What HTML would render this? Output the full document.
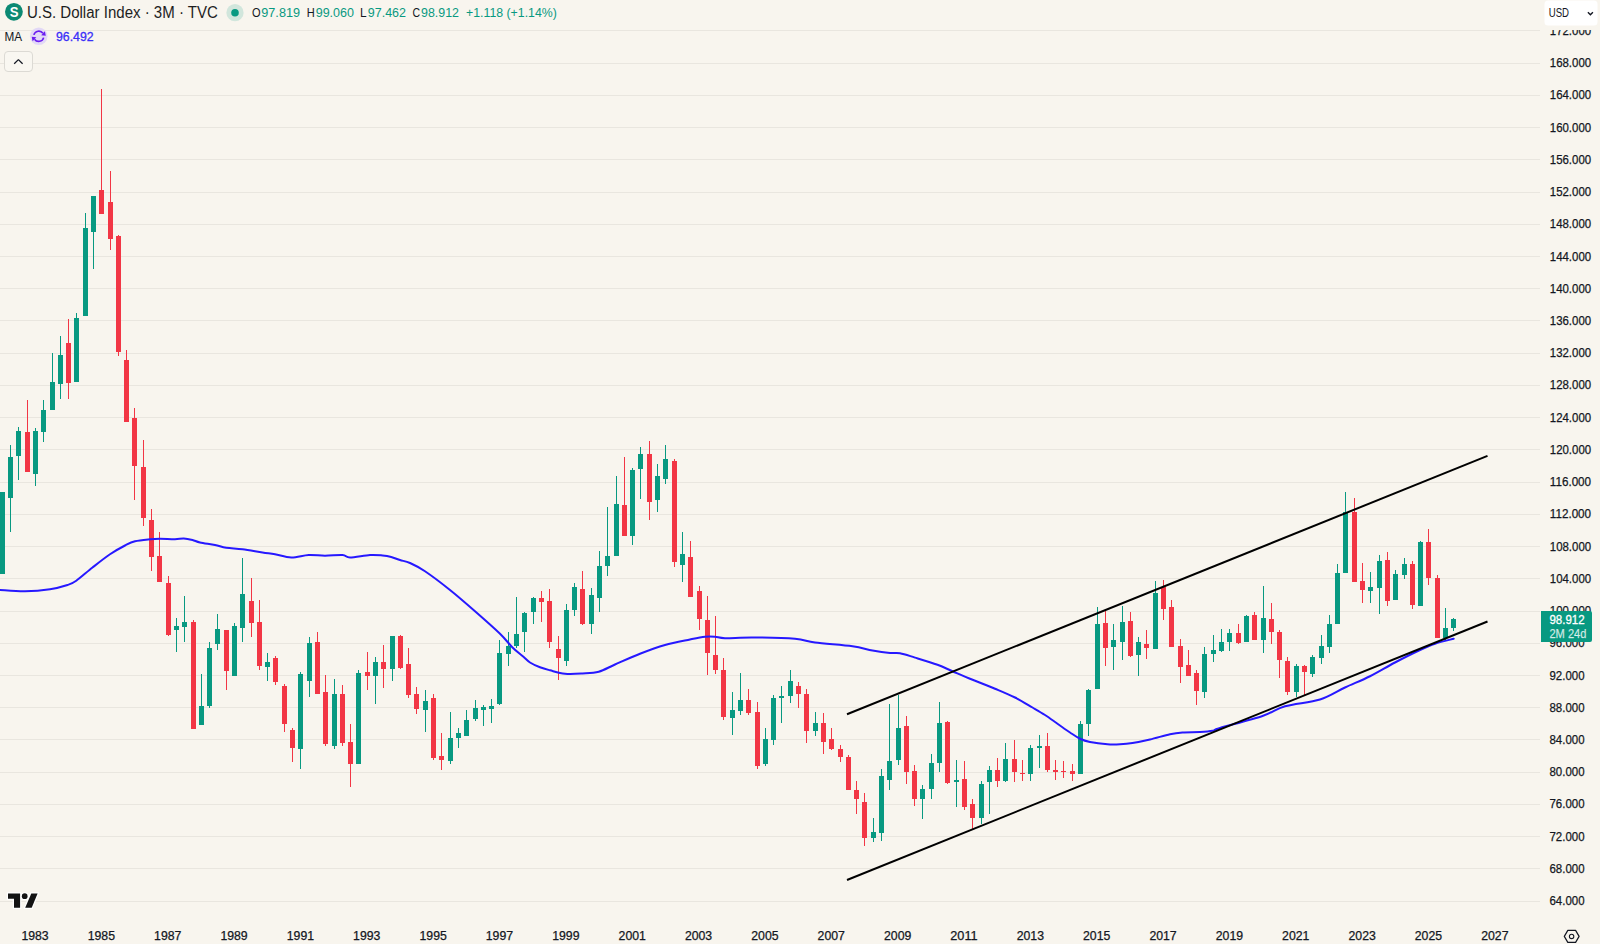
<!DOCTYPE html><html><head><meta charset="utf-8"><title>U.S. Dollar Index</title>
<style>html,body{margin:0;padding:0;background:#f8f5ee;}body{width:1600px;height:944px;overflow:hidden;position:relative;font-family:"Liberation Sans",sans-serif;}svg{position:absolute;left:0;top:0;display:block}text{font-family:"Liberation Sans",sans-serif;}</style></head><body>
<svg width="1600" height="944" viewBox="0 0 1600 944">
<rect width="1600" height="944" fill="#f8f5ee"/>
<g shape-rendering="crispEdges" fill="#e9e6df">
<rect x="0" y="30" width="1540" height="1"/>
<rect x="0" y="63" width="1540" height="1"/>
<rect x="0" y="95" width="1540" height="1"/>
<rect x="0" y="127" width="1540" height="1"/>
<rect x="0" y="159" width="1540" height="1"/>
<rect x="0" y="192" width="1540" height="1"/>
<rect x="0" y="224" width="1540" height="1"/>
<rect x="0" y="256" width="1540" height="1"/>
<rect x="0" y="288" width="1540" height="1"/>
<rect x="0" y="320" width="1540" height="1"/>
<rect x="0" y="353" width="1540" height="1"/>
<rect x="0" y="385" width="1540" height="1"/>
<rect x="0" y="417" width="1540" height="1"/>
<rect x="0" y="449" width="1540" height="1"/>
<rect x="0" y="482" width="1540" height="1"/>
<rect x="0" y="514" width="1540" height="1"/>
<rect x="0" y="546" width="1540" height="1"/>
<rect x="0" y="578" width="1540" height="1"/>
<rect x="0" y="611" width="1540" height="1"/>
<rect x="0" y="643" width="1540" height="1"/>
<rect x="0" y="675" width="1540" height="1"/>
<rect x="0" y="707" width="1540" height="1"/>
<rect x="0" y="739" width="1540" height="1"/>
<rect x="0" y="772" width="1540" height="1"/>
<rect x="0" y="804" width="1540" height="1"/>
<rect x="0" y="836" width="1540" height="1"/>
<rect x="0" y="868" width="1540" height="1"/>
<rect x="0" y="901" width="1540" height="1"/>
</g>
<g shape-rendering="crispEdges">
<rect x="2" y="492" width="1" height="82" fill="#089981"/>
<rect x="0" y="492" width="5" height="82" fill="#089981"/>
<rect x="10" y="445" width="1" height="87" fill="#089981"/>
<rect x="8" y="457" width="5" height="41" fill="#089981"/>
<rect x="18" y="427" width="1" height="53" fill="#089981"/>
<rect x="16" y="431" width="5" height="25" fill="#089981"/>
<rect x="27" y="400" width="1" height="72" fill="#f23645"/>
<rect x="25" y="432" width="5" height="40" fill="#f23645"/>
<rect x="35" y="428" width="1" height="58" fill="#089981"/>
<rect x="33" y="431" width="5" height="43" fill="#089981"/>
<rect x="43" y="400" width="1" height="42" fill="#089981"/>
<rect x="41" y="410" width="5" height="22" fill="#089981"/>
<rect x="52" y="353" width="1" height="57" fill="#089981"/>
<rect x="50" y="382" width="5" height="28" fill="#089981"/>
<rect x="60" y="336" width="1" height="63" fill="#089981"/>
<rect x="58" y="355" width="5" height="29" fill="#089981"/>
<rect x="68" y="319" width="1" height="80" fill="#f23645"/>
<rect x="66" y="343" width="5" height="40" fill="#f23645"/>
<rect x="76" y="313" width="1" height="69" fill="#089981"/>
<rect x="74" y="318" width="5" height="64" fill="#089981"/>
<rect x="85" y="213" width="1" height="103" fill="#089981"/>
<rect x="83" y="228" width="5" height="88" fill="#089981"/>
<rect x="93" y="196" width="1" height="73" fill="#089981"/>
<rect x="91" y="196" width="5" height="36" fill="#089981"/>
<rect x="101" y="89" width="1" height="125" fill="#f23645"/>
<rect x="99" y="190" width="5" height="24" fill="#f23645"/>
<rect x="110" y="171" width="1" height="79" fill="#f23645"/>
<rect x="108" y="202" width="5" height="37" fill="#f23645"/>
<rect x="118" y="235" width="1" height="121" fill="#f23645"/>
<rect x="116" y="236" width="5" height="116" fill="#f23645"/>
<rect x="126" y="350" width="1" height="72" fill="#f23645"/>
<rect x="124" y="360" width="5" height="62" fill="#f23645"/>
<rect x="134" y="408" width="1" height="92" fill="#f23645"/>
<rect x="132" y="418" width="5" height="48" fill="#f23645"/>
<rect x="143" y="440" width="1" height="86" fill="#f23645"/>
<rect x="141" y="467" width="5" height="51" fill="#f23645"/>
<rect x="151" y="509" width="1" height="62" fill="#f23645"/>
<rect x="149" y="520" width="5" height="37" fill="#f23645"/>
<rect x="159" y="532" width="1" height="50" fill="#f23645"/>
<rect x="157" y="556" width="5" height="26" fill="#f23645"/>
<rect x="168" y="576" width="1" height="60" fill="#f23645"/>
<rect x="166" y="583" width="5" height="52" fill="#f23645"/>
<rect x="176" y="618" width="1" height="34" fill="#089981"/>
<rect x="174" y="626" width="5" height="4" fill="#089981"/>
<rect x="184" y="596" width="1" height="46" fill="#089981"/>
<rect x="182" y="622" width="5" height="5" fill="#089981"/>
<rect x="193" y="620" width="1" height="109" fill="#f23645"/>
<rect x="191" y="622" width="5" height="107" fill="#f23645"/>
<rect x="201" y="674" width="1" height="51" fill="#089981"/>
<rect x="199" y="706" width="5" height="19" fill="#089981"/>
<rect x="209" y="642" width="1" height="66" fill="#089981"/>
<rect x="207" y="648" width="5" height="58" fill="#089981"/>
<rect x="217" y="614" width="1" height="36" fill="#089981"/>
<rect x="215" y="629" width="5" height="15" fill="#089981"/>
<rect x="226" y="630" width="1" height="60" fill="#f23645"/>
<rect x="224" y="630" width="5" height="41" fill="#f23645"/>
<rect x="234" y="623" width="1" height="53" fill="#089981"/>
<rect x="232" y="626" width="5" height="50" fill="#089981"/>
<rect x="242" y="558" width="1" height="84" fill="#089981"/>
<rect x="240" y="594" width="5" height="34" fill="#089981"/>
<rect x="251" y="578" width="1" height="59" fill="#f23645"/>
<rect x="249" y="601" width="5" height="22" fill="#f23645"/>
<rect x="259" y="600" width="1" height="70" fill="#f23645"/>
<rect x="257" y="622" width="5" height="44" fill="#f23645"/>
<rect x="267" y="653" width="1" height="28" fill="#089981"/>
<rect x="265" y="662" width="5" height="5" fill="#089981"/>
<rect x="275" y="656" width="1" height="29" fill="#f23645"/>
<rect x="273" y="658" width="5" height="24" fill="#f23645"/>
<rect x="284" y="684" width="1" height="48" fill="#f23645"/>
<rect x="282" y="686" width="5" height="38" fill="#f23645"/>
<rect x="292" y="728" width="1" height="34" fill="#f23645"/>
<rect x="290" y="730" width="5" height="18" fill="#f23645"/>
<rect x="300" y="672" width="1" height="97" fill="#089981"/>
<rect x="298" y="674" width="5" height="75" fill="#089981"/>
<rect x="309" y="637" width="1" height="60" fill="#089981"/>
<rect x="307" y="643" width="5" height="38" fill="#089981"/>
<rect x="317" y="632" width="1" height="62" fill="#f23645"/>
<rect x="315" y="642" width="5" height="52" fill="#f23645"/>
<rect x="325" y="675" width="1" height="71" fill="#f23645"/>
<rect x="323" y="692" width="5" height="52" fill="#f23645"/>
<rect x="334" y="679" width="1" height="70" fill="#089981"/>
<rect x="332" y="694" width="5" height="52" fill="#089981"/>
<rect x="342" y="685" width="1" height="61" fill="#f23645"/>
<rect x="340" y="694" width="5" height="49" fill="#f23645"/>
<rect x="350" y="724" width="1" height="63" fill="#f23645"/>
<rect x="348" y="742" width="5" height="22" fill="#f23645"/>
<rect x="358" y="670" width="1" height="94" fill="#089981"/>
<rect x="356" y="673" width="5" height="91" fill="#089981"/>
<rect x="367" y="652" width="1" height="38" fill="#f23645"/>
<rect x="365" y="672" width="5" height="4" fill="#f23645"/>
<rect x="375" y="657" width="1" height="47" fill="#089981"/>
<rect x="373" y="662" width="5" height="14" fill="#089981"/>
<rect x="383" y="645" width="1" height="43" fill="#f23645"/>
<rect x="381" y="662" width="5" height="7" fill="#f23645"/>
<rect x="392" y="636" width="1" height="45" fill="#089981"/>
<rect x="390" y="636" width="5" height="33" fill="#089981"/>
<rect x="400" y="635" width="1" height="34" fill="#f23645"/>
<rect x="398" y="636" width="5" height="32" fill="#f23645"/>
<rect x="408" y="648" width="1" height="50" fill="#f23645"/>
<rect x="406" y="664" width="5" height="31" fill="#f23645"/>
<rect x="416" y="687" width="1" height="27" fill="#f23645"/>
<rect x="414" y="694" width="5" height="15" fill="#f23645"/>
<rect x="425" y="690" width="1" height="42" fill="#089981"/>
<rect x="423" y="701" width="5" height="9" fill="#089981"/>
<rect x="433" y="694" width="1" height="66" fill="#f23645"/>
<rect x="431" y="698" width="5" height="60" fill="#f23645"/>
<rect x="441" y="733" width="1" height="37" fill="#f23645"/>
<rect x="439" y="756" width="5" height="4" fill="#f23645"/>
<rect x="450" y="712" width="1" height="52" fill="#089981"/>
<rect x="448" y="738" width="5" height="23" fill="#089981"/>
<rect x="458" y="728" width="1" height="20" fill="#089981"/>
<rect x="456" y="733" width="5" height="5" fill="#089981"/>
<rect x="466" y="710" width="1" height="26" fill="#089981"/>
<rect x="464" y="720" width="5" height="16" fill="#089981"/>
<rect x="475" y="700" width="1" height="21" fill="#089981"/>
<rect x="473" y="708" width="5" height="11" fill="#089981"/>
<rect x="483" y="705" width="1" height="21" fill="#089981"/>
<rect x="481" y="707" width="5" height="3" fill="#089981"/>
<rect x="491" y="699" width="1" height="24" fill="#089981"/>
<rect x="489" y="706" width="5" height="3" fill="#089981"/>
<rect x="499" y="640" width="1" height="65" fill="#089981"/>
<rect x="497" y="653" width="5" height="51" fill="#089981"/>
<rect x="508" y="632" width="1" height="34" fill="#089981"/>
<rect x="506" y="646" width="5" height="8" fill="#089981"/>
<rect x="516" y="597" width="1" height="51" fill="#089981"/>
<rect x="514" y="634" width="5" height="12" fill="#089981"/>
<rect x="524" y="612" width="1" height="40" fill="#089981"/>
<rect x="522" y="613" width="5" height="19" fill="#089981"/>
<rect x="533" y="597" width="1" height="27" fill="#089981"/>
<rect x="531" y="598" width="5" height="14" fill="#089981"/>
<rect x="541" y="591" width="1" height="31" fill="#f23645"/>
<rect x="539" y="598" width="5" height="4" fill="#f23645"/>
<rect x="549" y="589" width="1" height="59" fill="#f23645"/>
<rect x="547" y="601" width="5" height="41" fill="#f23645"/>
<rect x="558" y="636" width="1" height="44" fill="#f23645"/>
<rect x="556" y="649" width="5" height="9" fill="#f23645"/>
<rect x="566" y="604" width="1" height="62" fill="#089981"/>
<rect x="564" y="610" width="5" height="51" fill="#089981"/>
<rect x="574" y="583" width="1" height="33" fill="#089981"/>
<rect x="572" y="587" width="5" height="23" fill="#089981"/>
<rect x="582" y="571" width="1" height="54" fill="#f23645"/>
<rect x="580" y="589" width="5" height="35" fill="#f23645"/>
<rect x="591" y="588" width="1" height="46" fill="#089981"/>
<rect x="589" y="595" width="5" height="29" fill="#089981"/>
<rect x="599" y="551" width="1" height="61" fill="#089981"/>
<rect x="597" y="566" width="5" height="32" fill="#089981"/>
<rect x="607" y="507" width="1" height="69" fill="#089981"/>
<rect x="605" y="556" width="5" height="10" fill="#089981"/>
<rect x="616" y="476" width="1" height="80" fill="#089981"/>
<rect x="614" y="504" width="5" height="52" fill="#089981"/>
<rect x="624" y="457" width="1" height="79" fill="#f23645"/>
<rect x="622" y="505" width="5" height="31" fill="#f23645"/>
<rect x="632" y="468" width="1" height="77" fill="#089981"/>
<rect x="630" y="470" width="5" height="66" fill="#089981"/>
<rect x="640" y="447" width="1" height="52" fill="#089981"/>
<rect x="638" y="454" width="5" height="15" fill="#089981"/>
<rect x="649" y="441" width="1" height="79" fill="#f23645"/>
<rect x="647" y="454" width="5" height="48" fill="#f23645"/>
<rect x="657" y="464" width="1" height="48" fill="#089981"/>
<rect x="655" y="476" width="5" height="24" fill="#089981"/>
<rect x="665" y="445" width="1" height="39" fill="#089981"/>
<rect x="663" y="459" width="5" height="20" fill="#089981"/>
<rect x="674" y="459" width="1" height="108" fill="#f23645"/>
<rect x="672" y="461" width="5" height="101" fill="#f23645"/>
<rect x="682" y="532" width="1" height="50" fill="#089981"/>
<rect x="680" y="554" width="5" height="11" fill="#089981"/>
<rect x="690" y="541" width="1" height="56" fill="#f23645"/>
<rect x="688" y="557" width="5" height="40" fill="#f23645"/>
<rect x="699" y="586" width="1" height="44" fill="#f23645"/>
<rect x="697" y="591" width="5" height="28" fill="#f23645"/>
<rect x="707" y="596" width="1" height="79" fill="#f23645"/>
<rect x="705" y="620" width="5" height="33" fill="#f23645"/>
<rect x="715" y="616" width="1" height="58" fill="#f23645"/>
<rect x="713" y="655" width="5" height="15" fill="#f23645"/>
<rect x="723" y="658" width="1" height="62" fill="#f23645"/>
<rect x="721" y="670" width="5" height="47" fill="#f23645"/>
<rect x="732" y="692" width="1" height="43" fill="#089981"/>
<rect x="730" y="710" width="5" height="8" fill="#089981"/>
<rect x="740" y="673" width="1" height="42" fill="#089981"/>
<rect x="738" y="700" width="5" height="11" fill="#089981"/>
<rect x="748" y="689" width="1" height="26" fill="#f23645"/>
<rect x="746" y="700" width="5" height="13" fill="#f23645"/>
<rect x="757" y="702" width="1" height="67" fill="#f23645"/>
<rect x="755" y="712" width="5" height="54" fill="#f23645"/>
<rect x="765" y="728" width="1" height="38" fill="#089981"/>
<rect x="763" y="739" width="5" height="25" fill="#089981"/>
<rect x="773" y="695" width="1" height="50" fill="#089981"/>
<rect x="771" y="698" width="5" height="42" fill="#089981"/>
<rect x="781" y="686" width="1" height="37" fill="#089981"/>
<rect x="779" y="696" width="5" height="2" fill="#089981"/>
<rect x="790" y="670" width="1" height="33" fill="#089981"/>
<rect x="788" y="681" width="5" height="15" fill="#089981"/>
<rect x="798" y="682" width="1" height="26" fill="#f23645"/>
<rect x="796" y="686" width="5" height="8" fill="#f23645"/>
<rect x="806" y="689" width="1" height="54" fill="#f23645"/>
<rect x="804" y="694" width="5" height="37" fill="#f23645"/>
<rect x="815" y="712" width="1" height="24" fill="#089981"/>
<rect x="813" y="723" width="5" height="8" fill="#089981"/>
<rect x="823" y="713" width="1" height="41" fill="#f23645"/>
<rect x="821" y="723" width="5" height="19" fill="#f23645"/>
<rect x="831" y="728" width="1" height="22" fill="#f23645"/>
<rect x="829" y="739" width="5" height="10" fill="#f23645"/>
<rect x="840" y="745" width="1" height="17" fill="#f23645"/>
<rect x="838" y="749" width="5" height="8" fill="#f23645"/>
<rect x="848" y="755" width="1" height="35" fill="#f23645"/>
<rect x="846" y="757" width="5" height="33" fill="#f23645"/>
<rect x="856" y="781" width="1" height="33" fill="#f23645"/>
<rect x="854" y="790" width="5" height="9" fill="#f23645"/>
<rect x="864" y="793" width="1" height="53" fill="#f23645"/>
<rect x="862" y="802" width="5" height="36" fill="#f23645"/>
<rect x="873" y="818" width="1" height="24" fill="#089981"/>
<rect x="871" y="832" width="5" height="6" fill="#089981"/>
<rect x="881" y="769" width="1" height="72" fill="#089981"/>
<rect x="879" y="776" width="5" height="57" fill="#089981"/>
<rect x="889" y="704" width="1" height="86" fill="#089981"/>
<rect x="887" y="761" width="5" height="19" fill="#089981"/>
<rect x="898" y="695" width="1" height="70" fill="#089981"/>
<rect x="896" y="728" width="5" height="32" fill="#089981"/>
<rect x="906" y="716" width="1" height="68" fill="#f23645"/>
<rect x="904" y="726" width="5" height="46" fill="#f23645"/>
<rect x="914" y="765" width="1" height="41" fill="#f23645"/>
<rect x="912" y="771" width="5" height="28" fill="#f23645"/>
<rect x="922" y="785" width="1" height="34" fill="#089981"/>
<rect x="920" y="789" width="5" height="10" fill="#089981"/>
<rect x="931" y="754" width="1" height="45" fill="#089981"/>
<rect x="929" y="763" width="5" height="26" fill="#089981"/>
<rect x="939" y="702" width="1" height="70" fill="#089981"/>
<rect x="937" y="723" width="5" height="40" fill="#089981"/>
<rect x="947" y="721" width="1" height="63" fill="#f23645"/>
<rect x="945" y="722" width="5" height="61" fill="#f23645"/>
<rect x="956" y="760" width="1" height="47" fill="#089981"/>
<rect x="954" y="780" width="5" height="2" fill="#089981"/>
<rect x="964" y="761" width="1" height="49" fill="#f23645"/>
<rect x="962" y="779" width="5" height="28" fill="#f23645"/>
<rect x="972" y="799" width="1" height="31" fill="#f23645"/>
<rect x="970" y="804" width="5" height="14" fill="#f23645"/>
<rect x="981" y="781" width="1" height="43" fill="#089981"/>
<rect x="979" y="784" width="5" height="34" fill="#089981"/>
<rect x="989" y="766" width="1" height="48" fill="#089981"/>
<rect x="987" y="770" width="5" height="12" fill="#089981"/>
<rect x="997" y="758" width="1" height="29" fill="#f23645"/>
<rect x="995" y="770" width="5" height="11" fill="#f23645"/>
<rect x="1005" y="743" width="1" height="39" fill="#089981"/>
<rect x="1003" y="759" width="5" height="22" fill="#089981"/>
<rect x="1014" y="740" width="1" height="42" fill="#f23645"/>
<rect x="1012" y="759" width="5" height="13" fill="#f23645"/>
<rect x="1022" y="760" width="1" height="21" fill="#f23645"/>
<rect x="1020" y="773" width="5" height="1" fill="#f23645"/>
<rect x="1030" y="745" width="1" height="36" fill="#089981"/>
<rect x="1028" y="748" width="5" height="26" fill="#089981"/>
<rect x="1039" y="735" width="1" height="33" fill="#089981"/>
<rect x="1037" y="746" width="5" height="2" fill="#089981"/>
<rect x="1047" y="733" width="1" height="39" fill="#f23645"/>
<rect x="1045" y="746" width="5" height="24" fill="#f23645"/>
<rect x="1055" y="760" width="1" height="20" fill="#f23645"/>
<rect x="1053" y="770" width="5" height="2" fill="#f23645"/>
<rect x="1063" y="761" width="1" height="17" fill="#f23645"/>
<rect x="1061" y="771" width="5" height="1" fill="#f23645"/>
<rect x="1072" y="764" width="1" height="17" fill="#f23645"/>
<rect x="1070" y="771" width="5" height="3" fill="#f23645"/>
<rect x="1080" y="721" width="1" height="53" fill="#089981"/>
<rect x="1078" y="724" width="5" height="50" fill="#089981"/>
<rect x="1088" y="689" width="1" height="47" fill="#089981"/>
<rect x="1086" y="690" width="5" height="34" fill="#089981"/>
<rect x="1097" y="607" width="1" height="82" fill="#089981"/>
<rect x="1095" y="624" width="5" height="65" fill="#089981"/>
<rect x="1105" y="611" width="1" height="55" fill="#f23645"/>
<rect x="1103" y="623" width="5" height="25" fill="#f23645"/>
<rect x="1113" y="624" width="1" height="46" fill="#089981"/>
<rect x="1111" y="640" width="5" height="7" fill="#089981"/>
<rect x="1122" y="606" width="1" height="54" fill="#089981"/>
<rect x="1120" y="622" width="5" height="20" fill="#089981"/>
<rect x="1130" y="612" width="1" height="45" fill="#f23645"/>
<rect x="1128" y="621" width="5" height="35" fill="#f23645"/>
<rect x="1138" y="637" width="1" height="39" fill="#089981"/>
<rect x="1136" y="642" width="5" height="13" fill="#089981"/>
<rect x="1146" y="630" width="1" height="29" fill="#f23645"/>
<rect x="1144" y="644" width="5" height="4" fill="#f23645"/>
<rect x="1155" y="581" width="1" height="68" fill="#089981"/>
<rect x="1153" y="593" width="5" height="56" fill="#089981"/>
<rect x="1163" y="580" width="1" height="40" fill="#f23645"/>
<rect x="1161" y="587" width="5" height="22" fill="#f23645"/>
<rect x="1171" y="600" width="1" height="47" fill="#f23645"/>
<rect x="1169" y="607" width="5" height="40" fill="#f23645"/>
<rect x="1180" y="639" width="1" height="44" fill="#f23645"/>
<rect x="1178" y="646" width="5" height="21" fill="#f23645"/>
<rect x="1188" y="650" width="1" height="26" fill="#f23645"/>
<rect x="1186" y="665" width="5" height="11" fill="#f23645"/>
<rect x="1196" y="670" width="1" height="35" fill="#f23645"/>
<rect x="1194" y="673" width="5" height="18" fill="#f23645"/>
<rect x="1204" y="647" width="1" height="51" fill="#089981"/>
<rect x="1202" y="654" width="5" height="38" fill="#089981"/>
<rect x="1213" y="635" width="1" height="27" fill="#089981"/>
<rect x="1211" y="650" width="5" height="4" fill="#089981"/>
<rect x="1221" y="629" width="1" height="23" fill="#089981"/>
<rect x="1219" y="642" width="5" height="9" fill="#089981"/>
<rect x="1229" y="629" width="1" height="22" fill="#089981"/>
<rect x="1227" y="633" width="5" height="9" fill="#089981"/>
<rect x="1238" y="624" width="1" height="20" fill="#f23645"/>
<rect x="1236" y="633" width="5" height="10" fill="#f23645"/>
<rect x="1246" y="615" width="1" height="27" fill="#089981"/>
<rect x="1244" y="616" width="5" height="26" fill="#089981"/>
<rect x="1254" y="612" width="1" height="28" fill="#f23645"/>
<rect x="1252" y="615" width="5" height="25" fill="#f23645"/>
<rect x="1263" y="586" width="1" height="67" fill="#089981"/>
<rect x="1261" y="618" width="5" height="22" fill="#089981"/>
<rect x="1271" y="603" width="1" height="41" fill="#f23645"/>
<rect x="1269" y="619" width="5" height="13" fill="#f23645"/>
<rect x="1279" y="630" width="1" height="48" fill="#f23645"/>
<rect x="1277" y="632" width="5" height="28" fill="#f23645"/>
<rect x="1287" y="657" width="1" height="38" fill="#f23645"/>
<rect x="1285" y="661" width="5" height="31" fill="#f23645"/>
<rect x="1296" y="664" width="1" height="33" fill="#089981"/>
<rect x="1294" y="666" width="5" height="26" fill="#089981"/>
<rect x="1304" y="665" width="1" height="30" fill="#f23645"/>
<rect x="1302" y="666" width="5" height="6" fill="#f23645"/>
<rect x="1312" y="655" width="1" height="22" fill="#089981"/>
<rect x="1310" y="657" width="5" height="17" fill="#089981"/>
<rect x="1321" y="635" width="1" height="29" fill="#089981"/>
<rect x="1319" y="646" width="5" height="12" fill="#089981"/>
<rect x="1329" y="615" width="1" height="38" fill="#089981"/>
<rect x="1327" y="624" width="5" height="23" fill="#089981"/>
<rect x="1337" y="564" width="1" height="60" fill="#089981"/>
<rect x="1335" y="573" width="5" height="51" fill="#089981"/>
<rect x="1345" y="492" width="1" height="81" fill="#089981"/>
<rect x="1343" y="512" width="5" height="61" fill="#089981"/>
<rect x="1354" y="498" width="1" height="84" fill="#f23645"/>
<rect x="1352" y="512" width="5" height="70" fill="#f23645"/>
<rect x="1362" y="563" width="1" height="40" fill="#f23645"/>
<rect x="1360" y="581" width="5" height="9" fill="#f23645"/>
<rect x="1370" y="572" width="1" height="31" fill="#089981"/>
<rect x="1368" y="587" width="5" height="4" fill="#089981"/>
<rect x="1379" y="555" width="1" height="59" fill="#089981"/>
<rect x="1377" y="561" width="5" height="27" fill="#089981"/>
<rect x="1387" y="552" width="1" height="54" fill="#f23645"/>
<rect x="1385" y="560" width="5" height="41" fill="#f23645"/>
<rect x="1395" y="570" width="1" height="30" fill="#089981"/>
<rect x="1393" y="574" width="5" height="26" fill="#089981"/>
<rect x="1404" y="558" width="1" height="21" fill="#089981"/>
<rect x="1402" y="564" width="5" height="11" fill="#089981"/>
<rect x="1412" y="561" width="1" height="48" fill="#f23645"/>
<rect x="1410" y="564" width="5" height="41" fill="#f23645"/>
<rect x="1420" y="541" width="1" height="65" fill="#089981"/>
<rect x="1418" y="542" width="5" height="64" fill="#089981"/>
<rect x="1428" y="529" width="1" height="56" fill="#f23645"/>
<rect x="1426" y="542" width="5" height="36" fill="#f23645"/>
<rect x="1437" y="575" width="1" height="63" fill="#f23645"/>
<rect x="1435" y="578" width="5" height="60" fill="#f23645"/>
<rect x="1445" y="608" width="1" height="32" fill="#089981"/>
<rect x="1443" y="628" width="5" height="10" fill="#089981"/>
<rect x="1453" y="618" width="1" height="13" fill="#089981"/>
<rect x="1451" y="619" width="5" height="9" fill="#089981"/>
</g>
<path fill="none" stroke="#2618ff" stroke-width="2" stroke-linejoin="round" stroke-linecap="round" d="M0.00 590.00C4.17 590.21 16.67 591.38 25.00 591.25C33.33 591.12 42.92 590.29 50.00 589.25C57.08 588.21 63.12 586.42 67.50 585.00C71.88 583.58 72.08 583.67 76.25 580.75C80.42 577.83 86.88 571.92 92.50 567.50C98.12 563.08 104.58 557.92 110.00 554.25C115.42 550.58 120.83 547.67 125.00 545.50C129.17 543.33 130.83 542.29 135.00 541.25C139.17 540.21 145.83 539.67 150.00 539.25C154.17 538.83 155.83 538.75 160.00 538.75C164.17 538.75 171.04 539.29 175.00 539.25C178.96 539.21 180.83 538.38 183.75 538.50C186.67 538.62 189.79 539.33 192.50 540.00C195.21 540.67 196.25 541.67 200.00 542.50C203.75 543.33 210.62 544.12 215.00 545.00C219.38 545.88 221.67 547.04 226.25 547.75C230.83 548.46 236.46 548.46 242.50 549.25C248.54 550.04 257.08 551.67 262.50 552.50C267.92 553.33 270.21 553.42 275.00 554.25C279.79 555.08 285.62 557.38 291.25 557.50C296.88 557.62 303.12 555.29 308.75 555.00C314.38 554.71 319.38 555.75 325.00 555.75C330.62 555.75 338.33 554.71 342.50 555.00C346.67 555.29 345.42 557.50 350.00 557.50C354.58 557.50 364.58 555.33 370.00 555.00C375.42 554.67 378.96 555.17 382.50 555.50C386.04 555.83 388.33 556.25 391.25 557.00C394.17 557.75 396.88 559.00 400.00 560.00C403.12 561.00 405.83 561.12 410.00 563.00C414.17 564.88 418.33 566.75 425.00 571.25C431.67 575.75 441.67 583.33 450.00 590.00C458.33 596.67 466.67 603.96 475.00 611.25C483.33 618.54 493.75 627.71 500.00 633.75C506.25 639.79 508.75 643.79 512.50 647.50C516.25 651.21 519.58 653.50 522.50 656.00C525.42 658.50 527.08 660.62 530.00 662.50C532.92 664.38 536.67 666.00 540.00 667.30C543.33 668.60 545.83 669.22 550.00 670.30C554.17 671.38 559.58 673.22 565.00 673.75C570.42 674.28 576.88 673.83 582.50 673.50C588.12 673.17 593.33 673.25 598.75 671.75C604.17 670.25 608.12 667.50 615.00 664.50C621.88 661.50 631.67 657.00 640.00 653.75C648.33 650.50 656.67 647.38 665.00 645.00C673.33 642.62 683.33 640.88 690.00 639.50C696.67 638.12 700.83 637.21 705.00 636.75C709.17 636.29 711.67 636.50 715.00 636.75C718.33 637.00 718.75 638.12 725.00 638.25C731.25 638.38 740.83 637.42 752.50 637.50C764.17 637.58 784.58 637.92 795.00 638.75C805.42 639.58 805.42 641.25 815.00 642.50C824.58 643.75 842.92 644.92 852.50 646.25C862.08 647.58 866.25 649.38 872.50 650.50C878.75 651.62 885.42 652.54 890.00 653.00C894.58 653.46 895.83 652.48 900.00 653.25C904.17 654.02 908.75 655.68 915.00 657.60C921.25 659.52 931.25 662.52 937.50 664.80C943.75 667.07 947.08 668.92 952.50 671.25C957.92 673.58 962.92 675.83 970.00 678.75C977.08 681.67 987.50 685.62 995.00 688.75C1002.50 691.88 1008.75 694.38 1015.00 697.50C1021.25 700.62 1027.50 704.58 1032.50 707.50C1037.50 710.42 1040.83 712.29 1045.00 715.00C1049.17 717.71 1053.33 720.83 1057.50 723.75C1061.67 726.67 1066.25 730.00 1070.00 732.50C1073.75 735.00 1076.67 737.17 1080.00 738.75C1083.33 740.33 1085.42 741.08 1090.00 742.00C1094.58 742.92 1102.50 743.88 1107.50 744.25C1112.50 744.62 1115.83 744.46 1120.00 744.25C1124.17 744.04 1127.50 743.79 1132.50 743.00C1137.50 742.21 1143.75 740.96 1150.00 739.50C1156.25 738.04 1164.58 735.42 1170.00 734.25C1175.42 733.08 1177.50 732.88 1182.50 732.50C1187.50 732.12 1195.00 732.29 1200.00 732.00C1205.00 731.71 1209.17 731.42 1212.50 730.75C1215.83 730.08 1211.67 730.46 1220.00 728.00C1228.33 725.54 1251.67 719.62 1262.50 716.00C1273.33 712.38 1275.42 709.00 1285.00 706.25C1294.58 703.50 1310.00 702.62 1320.00 699.50C1330.00 696.38 1336.67 691.38 1345.00 687.50C1353.33 683.62 1361.67 680.42 1370.00 676.25C1378.33 672.08 1386.67 666.88 1395.00 662.50C1403.33 658.12 1413.33 653.12 1420.00 650.00C1426.67 646.88 1429.38 645.62 1435.00 643.75C1440.62 641.88 1450.62 639.58 1453.75 638.75"/>
<line x1="847" y1="714.25" x2="1487.5" y2="455.9" stroke="#000" stroke-width="2" stroke-linecap="butt"/>
<line x1="847" y1="880" x2="1487.5" y2="621.5" stroke="#000" stroke-width="2" stroke-linecap="butt"/>
<g font-size="12" fill="#131722" stroke="#131722" stroke-width="0.25">
<clipPath id="pc"><rect x="1540" y="30" width="60" height="900"/></clipPath><g clip-path="url(#pc)">
<text x="1549.8" y="34.9" textLength="41.3" lengthAdjust="spacingAndGlyphs">172.000</text>
<text x="1549.8" y="67.1" textLength="41.3" lengthAdjust="spacingAndGlyphs">168.000</text>
<text x="1549.8" y="99.3" textLength="41.3" lengthAdjust="spacingAndGlyphs">164.000</text>
<text x="1549.8" y="131.5" textLength="41.3" lengthAdjust="spacingAndGlyphs">160.000</text>
<text x="1549.8" y="163.8" textLength="41.3" lengthAdjust="spacingAndGlyphs">156.000</text>
<text x="1549.8" y="196.0" textLength="41.3" lengthAdjust="spacingAndGlyphs">152.000</text>
<text x="1549.8" y="228.2" textLength="41.3" lengthAdjust="spacingAndGlyphs">148.000</text>
<text x="1549.8" y="260.5" textLength="41.3" lengthAdjust="spacingAndGlyphs">144.000</text>
<text x="1549.8" y="292.7" textLength="41.3" lengthAdjust="spacingAndGlyphs">140.000</text>
<text x="1549.8" y="324.9" textLength="41.3" lengthAdjust="spacingAndGlyphs">136.000</text>
<text x="1549.8" y="357.2" textLength="41.3" lengthAdjust="spacingAndGlyphs">132.000</text>
<text x="1549.8" y="389.4" textLength="41.3" lengthAdjust="spacingAndGlyphs">128.000</text>
<text x="1549.8" y="421.6" textLength="41.3" lengthAdjust="spacingAndGlyphs">124.000</text>
<text x="1549.8" y="453.9" textLength="41.3" lengthAdjust="spacingAndGlyphs">120.000</text>
<text x="1549.8" y="486.1" textLength="41.3" lengthAdjust="spacingAndGlyphs">116.000</text>
<text x="1549.8" y="518.3" textLength="41.3" lengthAdjust="spacingAndGlyphs">112.000</text>
<text x="1549.8" y="550.6" textLength="41.3" lengthAdjust="spacingAndGlyphs">108.000</text>
<text x="1549.8" y="582.8" textLength="41.3" lengthAdjust="spacingAndGlyphs">104.000</text>
<text x="1549.8" y="615.0" textLength="41.3" lengthAdjust="spacingAndGlyphs">100.000</text>
<text x="1549.5" y="647.3" textLength="35.0" lengthAdjust="spacingAndGlyphs">96.000</text>
<text x="1549.5" y="679.5" textLength="35.0" lengthAdjust="spacingAndGlyphs">92.000</text>
<text x="1549.5" y="711.7" textLength="35.0" lengthAdjust="spacingAndGlyphs">88.000</text>
<text x="1549.5" y="744.0" textLength="35.0" lengthAdjust="spacingAndGlyphs">84.000</text>
<text x="1549.5" y="776.2" textLength="35.0" lengthAdjust="spacingAndGlyphs">80.000</text>
<text x="1549.5" y="808.4" textLength="35.0" lengthAdjust="spacingAndGlyphs">76.000</text>
<text x="1549.5" y="840.6" textLength="35.0" lengthAdjust="spacingAndGlyphs">72.000</text>
<text x="1549.5" y="872.9" textLength="35.0" lengthAdjust="spacingAndGlyphs">68.000</text>
<text x="1549.5" y="905.1" textLength="35.0" lengthAdjust="spacingAndGlyphs">64.000</text>
</g>
<text x="21.4" y="940" textLength="27.3" lengthAdjust="spacingAndGlyphs">1983</text>
<text x="87.7" y="940" textLength="27.3" lengthAdjust="spacingAndGlyphs">1985</text>
<text x="154.1" y="940" textLength="27.3" lengthAdjust="spacingAndGlyphs">1987</text>
<text x="220.4" y="940" textLength="27.3" lengthAdjust="spacingAndGlyphs">1989</text>
<text x="286.8" y="940" textLength="27.3" lengthAdjust="spacingAndGlyphs">1991</text>
<text x="353.1" y="940" textLength="27.3" lengthAdjust="spacingAndGlyphs">1993</text>
<text x="419.5" y="940" textLength="27.3" lengthAdjust="spacingAndGlyphs">1995</text>
<text x="485.8" y="940" textLength="27.3" lengthAdjust="spacingAndGlyphs">1997</text>
<text x="552.2" y="940" textLength="27.3" lengthAdjust="spacingAndGlyphs">1999</text>
<text x="618.6" y="940" textLength="27.3" lengthAdjust="spacingAndGlyphs">2001</text>
<text x="684.9" y="940" textLength="27.3" lengthAdjust="spacingAndGlyphs">2003</text>
<text x="751.3" y="940" textLength="27.3" lengthAdjust="spacingAndGlyphs">2005</text>
<text x="817.6" y="940" textLength="27.3" lengthAdjust="spacingAndGlyphs">2007</text>
<text x="884.0" y="940" textLength="27.3" lengthAdjust="spacingAndGlyphs">2009</text>
<text x="950.3" y="940" textLength="27.3" lengthAdjust="spacingAndGlyphs">2011</text>
<text x="1016.7" y="940" textLength="27.3" lengthAdjust="spacingAndGlyphs">2013</text>
<text x="1083.0" y="940" textLength="27.3" lengthAdjust="spacingAndGlyphs">2015</text>
<text x="1149.4" y="940" textLength="27.3" lengthAdjust="spacingAndGlyphs">2017</text>
<text x="1215.8" y="940" textLength="27.3" lengthAdjust="spacingAndGlyphs">2019</text>
<text x="1282.1" y="940" textLength="27.3" lengthAdjust="spacingAndGlyphs">2021</text>
<text x="1348.5" y="940" textLength="27.3" lengthAdjust="spacingAndGlyphs">2023</text>
<text x="1414.8" y="940" textLength="27.3" lengthAdjust="spacingAndGlyphs">2025</text>
<text x="1481.2" y="940" textLength="27.3" lengthAdjust="spacingAndGlyphs">2027</text>
</g>
<path d="M1541 611h49a2 2 0 0 1 2 2v27a2 2 0 0 1 -2 2h-49z" fill="#089981"/>
<text x="1549.4" y="623.6" font-size="12" fill="#fff" stroke="#fff" stroke-width="0.3" textLength="35.2" lengthAdjust="spacingAndGlyphs">98.912</text>
<text x="1549.4" y="637.6" font-size="12" fill="#fff" fill-opacity="0.78" stroke="#fff" stroke-opacity="0.6" stroke-width="0.25" textLength="37" lengthAdjust="spacingAndGlyphs">2M 24d</text>
<rect x="1544.5" y="0.5" width="53" height="25" rx="3.5" fill="#ffffff"/>
<text x="1548.7" y="17" font-size="12" fill="#131722" textLength="20.3" lengthAdjust="spacingAndGlyphs">USD</text>
<path d="M1587.9 12.3l2.5 2.5 2.5-2.5" fill="none" stroke="#131722" stroke-width="1.4"/>
<path d="M1564.3 936.4l3.5-6h7.8l3.5 6-3.5 6h-7.8z" fill="none" stroke="#131722" stroke-width="1.2" stroke-linejoin="round"/>
<circle cx="1571.6" cy="936.4" r="2.2" fill="none" stroke="#131722" stroke-width="1.1"/>
<g stroke="#ffffff" stroke-width="2.4" stroke-linejoin="miter" paint-order="stroke" fill="#131313">
<path d="M8 893.4h12.1v14.4h-6.1v-9h-6z"/>
<circle cx="24.7" cy="896.2" r="2.85"/>
<path d="M31.3 893.4h6.3l-5.9 14.4h-6.5z"/>
</g>
<circle cx="13.9" cy="11.8" r="8.9" fill="#0b8973"/>
<text x="9.7" y="17.3" font-size="14.5" font-weight="bold" fill="#fff" textLength="8.8" lengthAdjust="spacingAndGlyphs">S</text>
<path d="M14.05 9.3v1.3M14.05 13.8v1.3" stroke="#3fa893" stroke-width="0.9"/>
<text x="26.9" y="18" font-size="16" fill="#1e1e1e" textLength="191" lengthAdjust="spacingAndGlyphs">U.S. Dollar Index · 3M · TVC</text>
<circle cx="235" cy="12.7" r="8.6" fill="#089981" fill-opacity="0.16"/>
<circle cx="235" cy="12.7" r="3.8" fill="#089981"/>
<text x="252.0" y="17.4" font-size="13" fill="#131722" textLength="8.6" lengthAdjust="spacingAndGlyphs">O</text>
<text x="261.3" y="17.4" font-size="13" fill="#089981" textLength="38.7" lengthAdjust="spacingAndGlyphs">97.819</text>
<text x="306.7" y="17.4" font-size="13" fill="#131722" textLength="8.0" lengthAdjust="spacingAndGlyphs">H</text>
<text x="315.7" y="17.4" font-size="13" fill="#089981" textLength="38.3" lengthAdjust="spacingAndGlyphs">99.060</text>
<text x="360.0" y="17.4" font-size="13" fill="#131722" textLength="6.6" lengthAdjust="spacingAndGlyphs">L</text>
<text x="367.8" y="17.4" font-size="13" fill="#089981" textLength="38.2" lengthAdjust="spacingAndGlyphs">97.462</text>
<text x="412.4" y="17.4" font-size="13" fill="#131722" textLength="7.6" lengthAdjust="spacingAndGlyphs">C</text>
<text x="421.0" y="17.4" font-size="13" fill="#089981" textLength="38.0" lengthAdjust="spacingAndGlyphs">98.912</text>
<text x="466.0" y="17.4" font-size="13" fill="#089981" textLength="90.8" lengthAdjust="spacingAndGlyphs">+1.118 (+1.14%)</text>
<text x="4.4" y="40.6" font-size="12" fill="#131722" textLength="17.6" lengthAdjust="spacingAndGlyphs">MA</text>
<circle cx="38.75" cy="36.25" r="8.8" fill="#e2d8f6"/>
<g fill="none" stroke="#6a1df0" stroke-width="1.6" stroke-linecap="butt"><path d="M33.85 34.9a5.1 5.1 0 0 1 9.1-1.6"/><path d="M43.65 37.6a5.1 5.1 0 0 1 -9.1 1.6"/></g>
<path d="M44.9 31.2l0.9 4.6-4.6-0.6z" fill="#6a1df0"/><path d="M32.6 41.3l-0.9-4.6 4.6 0.6z" fill="#6a1df0"/>
<text x="56" y="40.6" font-size="12" fill="#3a2ff8" stroke="#3a2ff8" stroke-width="0.3" textLength="37.6" lengthAdjust="spacingAndGlyphs">96.492</text>
<rect x="4.5" y="51.5" width="28" height="20" rx="3.5" fill="#f9f7f1" stroke="#dcdad4" stroke-width="1"/>
<path d="M14.2 63.7l4.2-4.1 4.2 4.1" fill="none" stroke="#131722" stroke-width="1.3" stroke-linejoin="bevel"/>
</svg></body></html>
